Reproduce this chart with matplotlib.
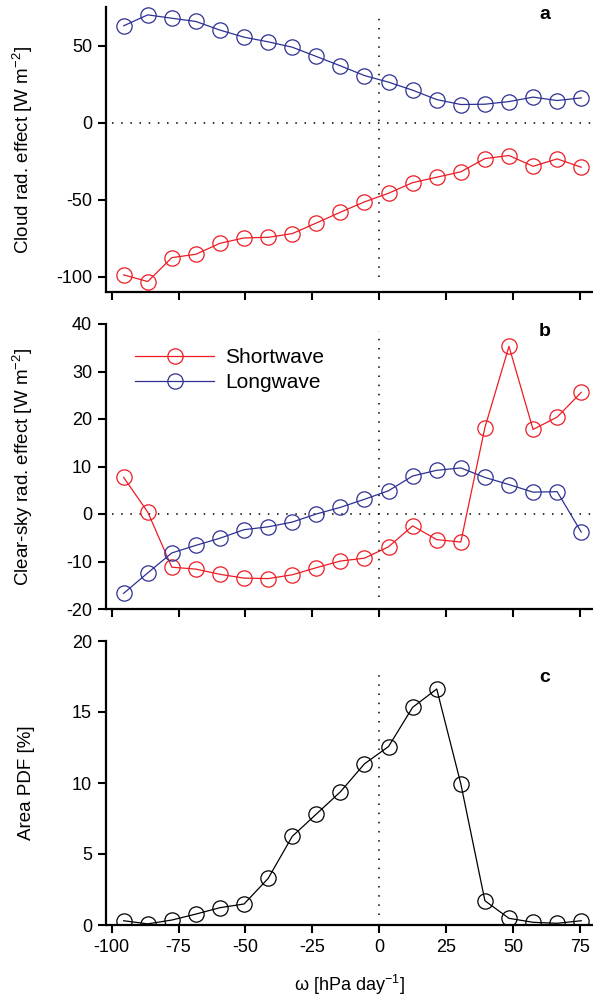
import numpy as np
import matplotlib
matplotlib.use("Agg")
import matplotlib.pyplot as plt

plt.rcParams['font.family'] = ['Liberation Sans', 'DejaVu Sans']
plt.rcParams['mathtext.fontset'] = 'custom'
plt.rcParams['mathtext.rm'] = 'Liberation Sans'
plt.rcParams['axes.unicode_minus'] = False

# bin centres of vertical velocity at 500 hPa
omega = [-95.5, -86.5, -77.5, -68.5, -59.5, -50.5, -41.5, -32.5, -23.5, -14.5,
         -5.5, 3.5, 12.5, 21.5, 30.5, 39.5, 48.5, 57.5, 66.5, 75.5]

# cloud radiative effect
cre_sw = [-98.9, -103.2, -87.7, -85.5, -78.4, -74.9, -74.5, -72.1, -65.2, -58.2,
          -51.5, -45.9, -39.0, -35.5, -32.0, -23.4, -21.4, -28.4, -23.6, -29.0]
cre_lw = [62.8, 69.9, 67.7, 65.6, 60.0, 55.4, 52.4, 48.9, 42.9, 36.8,
          30.5, 26.2, 21.0, 14.9, 11.7, 11.9, 13.6, 16.5, 14.3, 16.0]

# clear-sky radiative effect
clr_sw = [7.7, 0.4, -11.2, -11.6, -12.7, -13.5, -13.6, -12.8, -11.3, -9.9,
          -9.3, -6.9, -2.5, -5.4, -5.9, 18.2, 35.3, 17.8, 20.4, 25.6]
clr_lw = [-16.7, -12.4, -8.2, -6.6, -5.1, -3.3, -2.7, -1.7, 0.0, 1.4,
          3.1, 4.9, 8.0, 9.2, 9.7, 7.7, 6.2, 4.6, 4.7, -3.8]

# fraction of area in each omega bin
area_pdf = [0.30, 0.08, 0.35, 0.77, 1.22, 1.48, 3.28, 6.24, 7.81, 9.38,
            11.35, 12.57, 15.33, 16.62, 9.94, 1.71, 0.47, 0.19, 0.12, 0.30]

xticks = [-100, -75, -50, -25, 0, 25, 50, 75]
ylims = [(-110, 75), (-20, 40), (0, 20)]
yticks = [[-100, -50, 0, 50], [-20, -10, 0, 10, 20, 30, 40], [0, 5, 10, 15, 20]]
ylabels = ['Cloud rad. effect [W m$^{-2}$]',
           'Clear-sky rad. effect [W m$^{-2}$]',
           'Area PDF [%]']
letters = ['a', 'b', 'c']
letter_y = [0.972, 0.972, 0.873]
vline_span = [(-100, 70), (-17.5, 38.5), (0.7, 17.8)]

RED = '#ED1C24'
BLUE = '#2E3192'
FS = 13
XLIM = (-102.1, 79.9)

fig = plt.figure(figsize=(5.93, 10.02), dpi=100)
left = 106 / 593
width = 1 - left
boxes = [(7, 292), (324, 609), (641, 925)]
axes = []
for top, bot in boxes:
    ax = fig.add_axes([left, 1 - bot / 1002, width, (bot - top) / 1002])
    axes.append(ax)

mk = dict(marker='o', markersize=11, markerfacecolor='none',
          markeredgewidth=0.9, linewidth=0.9)

axes[0].plot(omega, cre_sw, color=RED, **mk)
axes[0].plot(omega, cre_lw, color=BLUE, **mk)
axes[1].plot(omega, clr_sw, color=RED, label='Shortwave', **mk)
axes[1].plot(omega, clr_lw, color=BLUE, label='Longwave', **mk)
axes[2].plot(omega, area_pdf, color='black', **mk)

dots = (0, (1, 5))
for i, ax in enumerate(axes):
    ax.set_xlim(*XLIM)
    ax.set_ylim(*ylims[i])
    ax.set_yticks(yticks[i])
    ax.set_xticks(xticks)
    lo, hi = vline_span[i]
    ax.vlines(0, lo, hi, colors='black', linestyles=dots, linewidth=1.1, zorder=0)
    if i < 2:
        ax.axhline(0, xmin=(-100 - XLIM[0]) / (XLIM[1] - XLIM[0]), color='black',
                   linestyle=dots, linewidth=1.1, zorder=0)
    for side in ['top', 'right']:
        ax.spines[side].set_visible(False)
    for side in ['left', 'bottom']:
        ax.spines[side].set_linewidth(1.6)
    ax.tick_params(direction='out', length=6, width=1.5, labelsize=FS, pad=4)
    if i < 2:
        ax.tick_params(axis='x', labelbottom=False)
    ax.set_ylabel(ylabels[i], fontsize=FS + 0.5)
    ax.yaxis.set_label_coords(-0.145, 0.5)
    ax.text(0.901, letter_y[i], letters[i], transform=ax.transAxes,
            fontsize=FS + 1, fontweight='bold', ha='center', va='center')

axes[1].legend(loc='upper left', bbox_to_anchor=(0.06, 0.915), frameon=False,
               fontsize=FS + 2, handlelength=3.8, handletextpad=0.5,
               labelspacing=0.3, borderpad=0, borderaxespad=0)

axes[2].set_xlabel('ω [hPa day$^{-1}$]', fontsize=FS, labelpad=12)

fig.savefig('out.png', dpi=100)
